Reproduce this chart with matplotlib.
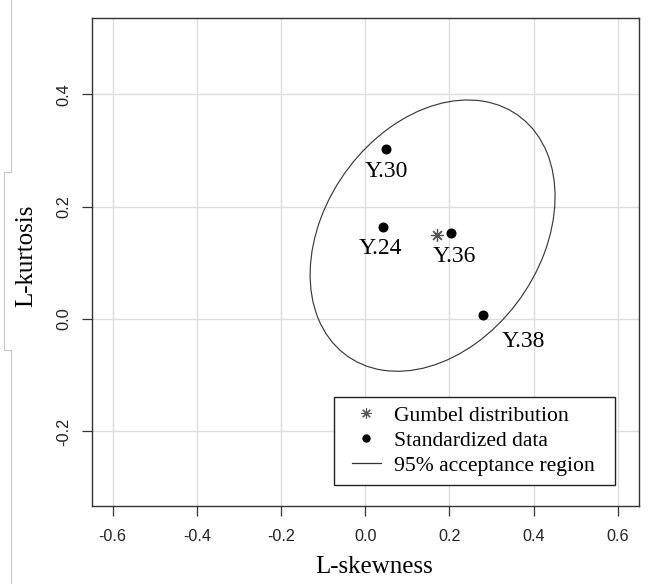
import numpy as np
import matplotlib
matplotlib.use('Agg')
import matplotlib.pyplot as plt
from matplotlib.patches import Ellipse
from matplotlib.lines import Line2D
from matplotlib.legend_handler import HandlerLine2D

# L-moment ratios of the standardized series
site_names = ['Y.30', 'Y.24', 'Y.36', 'Y.38']
l_skew = [0.050, 0.043, 0.203, 0.280]
l_kurt = [0.302, 0.163, 0.153, 0.007]

# theoretical Gumbel point
gumbel_skew = 0.1699
gumbel_kurt = 0.1504

# 95% acceptance region (ellipse): centre, half extents, correlation
ell_center = (0.160, 0.1485)
ell_half_x = 0.291
ell_half_y = 0.2415
ell_rho = 0.288

x_ticks = [-0.6, -0.4, -0.2, 0.0, 0.2, 0.4, 0.6]
y_ticks = [-0.2, 0.0, 0.2, 0.4]

# label offsets (points) for each site name
label_offsets = [(0, -16), (-2, -15), (3, -17), (29, -19)]

serif = 'Liberation Serif'
sans = 'Liberation Sans'

fig = plt.figure(figsize=(6.49, 5.84), dpi=100)
ax = fig.add_axes([0.1413, 0.1344, 0.8430, 0.8348])

ax.set_xlim(-0.65, 0.65)
ax.set_ylim(-0.332, 0.536)
ax.set_xticks(x_ticks)
ax.set_yticks(y_ticks)
ax.set_xticklabels([f'{v:.1f}' for v in x_ticks], fontfamily=sans, fontsize=11.6, color='#222222')
ax.set_yticklabels([f'{v:.1f}' for v in y_ticks], fontfamily=sans, fontsize=11.8, color='#222222',
                   rotation=90, va='center')
ax.tick_params(axis='both', direction='out', length=7.5, width=0.9, color='#333333')
ax.tick_params(axis='x', pad=9.3)
ax.tick_params(axis='y', pad=7)
ax.grid(color='#dddddd', lw=1.0)
ax.set_axisbelow(True)
for s in ax.spines.values():
    s.set_color('#333333')
    s.set_linewidth(1.0)

# ellipse from covariance matrix
cov = np.array([[ell_half_x ** 2, ell_rho * ell_half_x * ell_half_y],
                [ell_rho * ell_half_x * ell_half_y, ell_half_y ** 2]])
vals, vecs = np.linalg.eigh(cov)
ang = np.degrees(np.arctan2(vecs[1, 1], vecs[0, 1]))
ell = Ellipse(ell_center, 2 * np.sqrt(vals[1]), 2 * np.sqrt(vals[0]), angle=ang,
              fill=False, ec='#3a3a3a', lw=0.85, zorder=2)
ax.add_patch(ell)

ax.plot(l_skew, l_kurt, ls='none', marker='o', ms=6.2, color='black', zorder=3)
ax.plot([gumbel_skew], [gumbel_kurt], ls='none', marker=(8, 2, 0), ms=9, mew=0.9,
        color='#555555', zorder=3)

for name, xs, ys, off in zip(site_names, l_skew, l_kurt, label_offsets):
    ax.annotate(name, (xs, ys), xytext=off, textcoords='offset points',
                ha='center', va='center', fontfamily=serif, fontsize=17)

ax.set_xlabel('L-skewness', fontfamily=serif, fontsize=18)
ax.set_ylabel('L-kurtosis', fontfamily=serif, fontsize=18)
ax.xaxis.set_label_coords(0.516, -0.103)
ax.yaxis.set_label_coords(-0.100, 0.512)

handles = [
    Line2D([], [], ls='none', marker=(8, 2, 0), ms=7.5, mew=0.8, color='#555555'),
    Line2D([], [], ls='none', marker='o', ms=5, color='black'),
    Line2D([], [], color='#333333', lw=0.9),
]
leg = ax.legend(handles, ['Gumbel distribution', 'Standardized data', '95% acceptance region'],
                loc='lower left', bbox_to_anchor=(0.443, 0.043, 0.514, 0.1), mode='expand',
                prop={'family': serif, 'size': 15.6}, fancybox=False, framealpha=1,
                edgecolor='#222222', borderpad=0.4, labelspacing=0.22,
                handlelength=1.76, handletextpad=0.6, borderaxespad=0,
                handler_map={Line2D: HandlerLine2D(xpad=0.42)})
leg.get_frame().set_linewidth(1.0)

# faint grey bracket line at the far left of the screenshot
h = 584.0
px = [11, 11, 4, 4, 11, 11]
py = [0, 172, 172, 350, 350, 584]
fig.add_artist(Line2D([x / 649.0 for x in px], [1 - y / h for y in py],
                      transform=fig.transFigure, color='#c8c8c8', lw=0.8))

fig.savefig('out.png', dpi=100)
